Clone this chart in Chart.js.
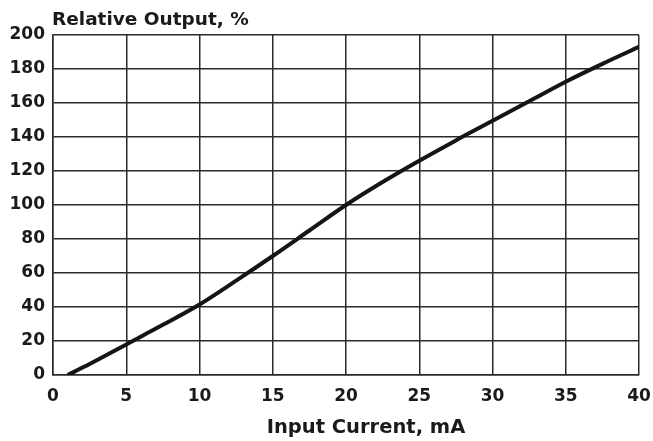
<!DOCTYPE html>
<html>
<head>
<meta charset="utf-8">
<script src="https://cdn.jsdelivr.net/npm/chart.js@4/dist/chart.umd.min.js"></script>
<style>
  html, body { margin: 0; padding: 0; background: #ffffff; }
  #wrap { width: 653px; height: 441px; position: relative; }
</style>
</head>
<body>
<div id="wrap"><canvas id="c"></canvas></div>
<script>
const currentMA = [1, 2.5, 5, 7.5, 10, 12.5, 15, 17.5, 20, 22.5, 25, 27.5, 30, 32.5, 35, 37.5, 40];
const relOutput = [0, 6.5, 18, 29.5, 41.5, 55.5, 70, 85, 100, 113.5, 126, 138, 149.5, 161, 172.5, 183, 193];
const yTitle = 'Relative Output, %';
const xTitle = 'Input Current, mA';

const FONT = '"DejaVu Sans", "Liberation Sans", Arial, sans-serif';
const INK = '#1a1a1a';
const GRID = '#2a2a2a';

const titlesPlugin = {
  id: 'titles',
  afterDraw(chart) {
    const ctx = chart.ctx;
    const a = chart.chartArea;
    ctx.save();
    ctx.fillStyle = INK;
    ctx.font = 'bold 18.5px ' + FONT;
    ctx.textAlign = 'left';
    ctx.textBaseline = 'alphabetic';
    ctx.fillText(yTitle, a.left - 1, 25);
    ctx.font = 'bold 19.5px ' + FONT;
    ctx.textAlign = 'center';
    ctx.fillText(xTitle, (a.left + a.right) / 2 + 20, 433);
    ctx.restore();
  }
};

new Chart(document.getElementById('c'), {
  type: 'line',
  data: {
    datasets: [{
      data: currentMA.map((x, i) => ({ x: x, y: relOutput[i] })),
      borderColor: '#151515',
      borderWidth: 4,
      pointRadius: 0,
      fill: false,
      cubicInterpolationMode: 'monotone'
    }]
  },
  options: {
    responsive: true,
    maintainAspectRatio: false,
    animation: false,
    layout: { padding: { top: 35, right: 14, left: 0, bottom: 0 } },
    plugins: { legend: { display: false }, tooltip: { enabled: false } },
    scales: {
      x: {
        type: 'linear',
        min: 0, max: 40,
        afterFit(scale) { scale.height = 66; scale.paddingLeft = 0; scale.paddingRight = 0; },
        ticks: { stepSize: 5, padding: 11, color: INK, font: { family: FONT, size: 17, weight: 'bold' } },
        grid: { color: GRID, lineWidth: 1.5, drawTicks: false },
        border: { display: true, color: GRID, width: 1.5 }
      },
      y: {
        min: 0, max: 200,
        afterFit(scale) { scale.width = 53; scale.paddingTop = 0; scale.paddingBottom = 0; },
        ticks: { stepSize: 20, padding: 8, color: INK, font: { family: FONT, size: 17, weight: 'bold' } },
        grid: { color: GRID, lineWidth: 1.5, drawTicks: false },
        border: { display: true, color: GRID, width: 1.5 }
      }
    }
  },
  plugins: [titlesPlugin]
});
</script>
</body>
</html>
